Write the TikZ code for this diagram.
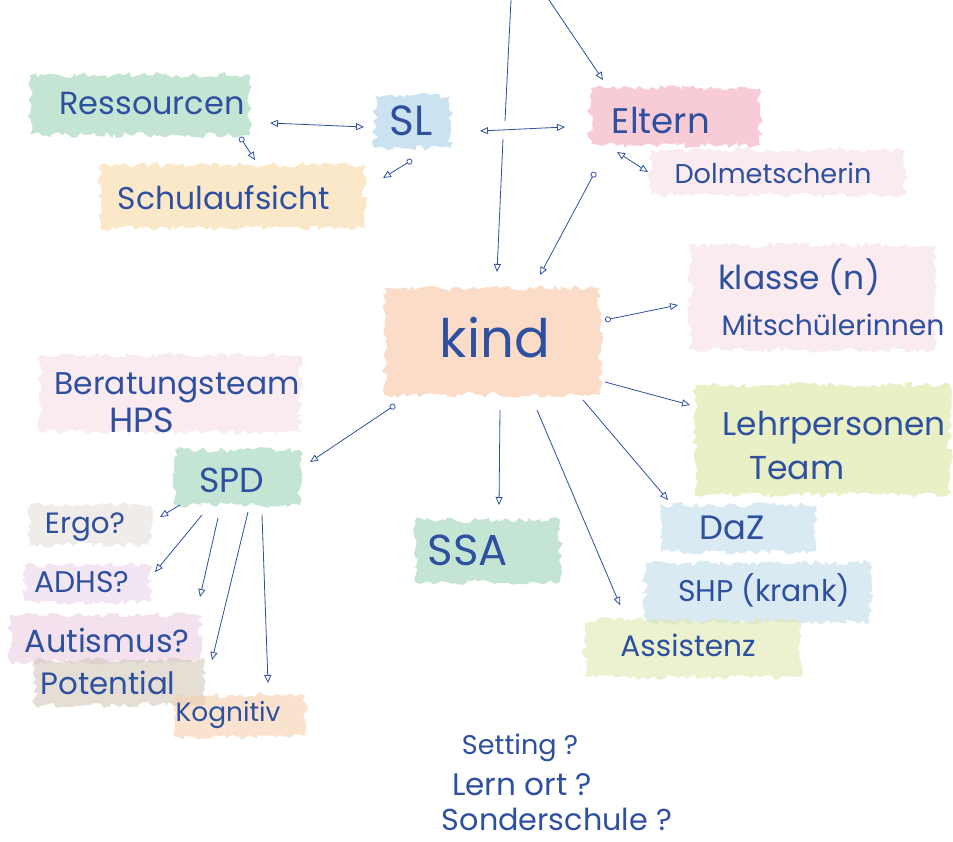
\documentclass[tikz,border=0pt]{standalone}
\usepackage{fontspec}
\setmainfont{Poppins}
\usepackage{graphicx}
\usetikzlibrary{arrows.meta,decorations.pathmorphing,calc}
\definecolor{ink}{HTML}{2F4F9F}
\definecolor{hgreen}{HTML}{9FD4B8}
\definecolor{hblue}{HTML}{A9CFE6}
\definecolor{horange}{HTML}{F7D9A6}
\definecolor{hpink}{HTML}{F2AABD}
\definecolor{hfpink}{HTML}{F6DFE6}
\definecolor{hpeach}{HTML}{F7C6A5}
\definecolor{hyg}{HTML}{DDE7A0}
\definecolor{hgray}{HTML}{E6E0DC}
\definecolor{hpurple}{HTML}{E8D6EA}
\definecolor{hpp}{HTML}{ECD0E4}
\definecolor{hbrown}{HTML}{D3C8BA}
\definecolor{horng}{HTML}{F6CFAE}
\definecolor{hlblue}{HTML}{C2DCEC}
\definecolor{hlyg}{HTML}{E0E8B0}
\newcommand{\fitw}[2]{\resizebox{#1pt}{!}{#2}}
\tikzset{
  lbl/.style={text=ink, inner sep=0pt, anchor=center},
  hl/.style={fill=#1, fill opacity=0.6, decorate,
    decoration={random steps, segment length=4pt, amplitude=3pt}},
  con/.style={draw=ink, line width=0.8pt, -{Triangle[open,length=8pt,width=7pt]}},
  con2/.style={con, {Triangle[open,length=8pt,width=7pt]}-{Triangle[open,length=8pt,width=7pt]}},
  conc/.style={con, {Circle[open,length=6pt]}-{Triangle[open,length=8pt,width=7pt]}},
  plain/.style={draw=ink, line width=0.8pt},
}
\begin{document}
\begin{tikzpicture}[x=1pt,y=-1pt]
\pgfmathsetseed{7}
\useasboundingbox[fill=white] (0,0) rectangle (953,841);
% highlights
\fill[hl=hgreen] (30,75) rectangle (250,135);
\fill[hl=hblue] (375,95) rectangle (450,148);
\fill[hl=horange] (100,165) rectangle (365,228);
\fill[hl=hpink] (590,88) rectangle (760,145);
\fill[hl=hfpink] (650,150) rectangle (905,195);
\fill[hl=hpeach] (385,288) rectangle (600,395);
\fill[hl=hfpink] (690,245) rectangle (935,350);
\fill[hl=hyg] (695,385) rectangle (950,495);
\fill[hl=hfpink] (40,355) rectangle (300,432);
\fill[hl=hgreen] (175,450) rectangle (300,505);
\fill[hl=hgray] (30,505) rectangle (150,545);
\fill[hl=hpurple] (25,565) rectangle (150,602);
\fill[hl=hpp] (10,615) rectangle (200,662);
\fill[hl=hbrown] (35,660) rectangle (205,705);
\fill[hl=horng] (175,695) rectangle (305,737);
\fill[hl=hgreen] (415,520) rectangle (560,582);
\fill[hl=hlblue] (660,505) rectangle (815,552);
\fill[hl=hlblue] (645,563) rectangle (870,622);
\fill[hl=hlyg] (585,620) rectangle (800,677);
% labels
\node[lbl] (ress) at (152,104) {\fitw{185}{Ressourcen}};
\node[lbl] (sl) at (411,121) {\fitw{43}{SL}};
\node[lbl] (schul) at (224,198) {\fitw{212}{Schulaufsicht}};
\node[lbl] (eltern) at (661,120) {\fitw{98}{Eltern}};
\node[lbl] (dolm) at (773,173) {\fitw{197}{Dolmetscherin}};
\node[lbl] (kind) at (495,338) {\fitw{110}{kind}};
\node[lbl] (klasse) at (799,277) {\fitw{162}{klasse (n)}};
\node[lbl] (mitsch) at (833,325) {\fitw{223}{Mitschülerinnen}};
\node[lbl] (lehr) at (834,428) {\fitw{223}{Lehrpersonen}};
\node[lbl] (team) at (797,468) {\fitw{95}{Team}};
\node[lbl] (berat) at (177,388) {\fitw{245}{Beratungsteam}};
\node[lbl] (hps) at (142,420) {\fitw{65}{HPS}};
\node[lbl] (spd) at (232,480) {\fitw{65}{SPD}};
\node[lbl] (ergo) at (85,527) {\fitw{80}{Ergo?}};
\node[lbl] (adhs) at (82,582) {\fitw{95}{ADHS?}};
\node[lbl] (autismus) at (107,640) {\fitw{165}{Autismus?}};
\node[lbl] (potential) at (108,683) {\fitw{135}{Potential}};
\node[lbl] (kognitiv) at (228,715) {\fitw{105}{Kognitiv}};
\node[lbl] (ssa) at (468,550) {\fitw{80}{SSA}};
\node[lbl] (daz) at (732,528) {\fitw{65}{DaZ}};
\node[lbl] (shp) at (764,590) {\fitw{172}{SHP (krank)}};
\node[lbl] (assist) at (688,645) {\fitw{135}{Assistenz}};
\node[lbl] (setting) at (520,748) {\fitw{116}{Setting ?}};
\node[lbl] (lernort) at (522,785) {\fitw{140}{Lern ort ?}};
\node[lbl] (sonder) at (557,819) {\fitw{230}{Sonderschule ?}};
% free ends
\coordinate (topA) at (511,0);
\coordinate (gapA) at (505,121);
\coordinate (gapB) at (503,139);
\coordinate (topB) at (549,0);
% connectors
\draw[plain] (topA) -- (gapA);
\draw[con] (gapB) -- ([shift={(2,-66)}]kind.center);
\draw[con] (topB) -- ([shift={(-58,-40)}]eltern.center);
\draw[con2] ([shift={(118,19)}]ress.center) -- ([shift={(-47,6)}]sl.center);
\draw[con2] ([shift={(69,10)}]sl.center) -- ([shift={(-96,7)}]eltern.center);
\draw[conc] ([shift={(88,33)}]ress.center) -- ([shift={(31,-38)}]schul.center);
\draw[conc] ([shift={(1,39)}]sl.center) -- ([shift={(159,-20)}]schul.center);
\draw[con2] ([shift={(-44,32)}]eltern.center) -- ([shift={(-125,-1)}]dolm.center);
\draw[conc] ([shift={(-66,52)}]eltern.center) -- ([shift={(45,-63)}]kind.center);
\draw[conc] ([shift={(110,-18)}]kind.center) -- ([shift={(-121,28)}]klasse.center);
\draw[con] ([shift={(110,44)}]kind.center) -- ([shift={(-144,-23)}]lehr.center);
\draw[con] ([shift={(88,62)}]kind.center) -- ([shift={(-64,-28)}]daz.center);
\draw[con] ([shift={(42,72)}]kind.center) -- ([shift={(-68,-40)}]assist.center);
\draw[con] ([shift={(5,72)}]kind.center) -- ([shift={(31,-45)}]ssa.center);
\draw[conc] ([shift={(-100,67)}]kind.center) -- ([shift={(78,-18)}]spd.center);
\draw[con] ([shift={(-52,25)}]spd.center) -- ([shift={(75,-10)}]ergo.center);
\draw[con] ([shift={(-30,35)}]spd.center) -- ([shift={(73,-10)}]adhs.center);
\draw[con] ([shift={(-14,38)}]spd.center) -- ([shift={(93,-43)}]autismus.center);
\draw[con] ([shift={(16,32)}]spd.center) -- ([shift={(104,-23)}]potential.center);
\draw[con] ([shift={(30,35)}]spd.center) -- ([shift={(40,-32)}]kognitiv.center);
\end{tikzpicture}
\end{document}
